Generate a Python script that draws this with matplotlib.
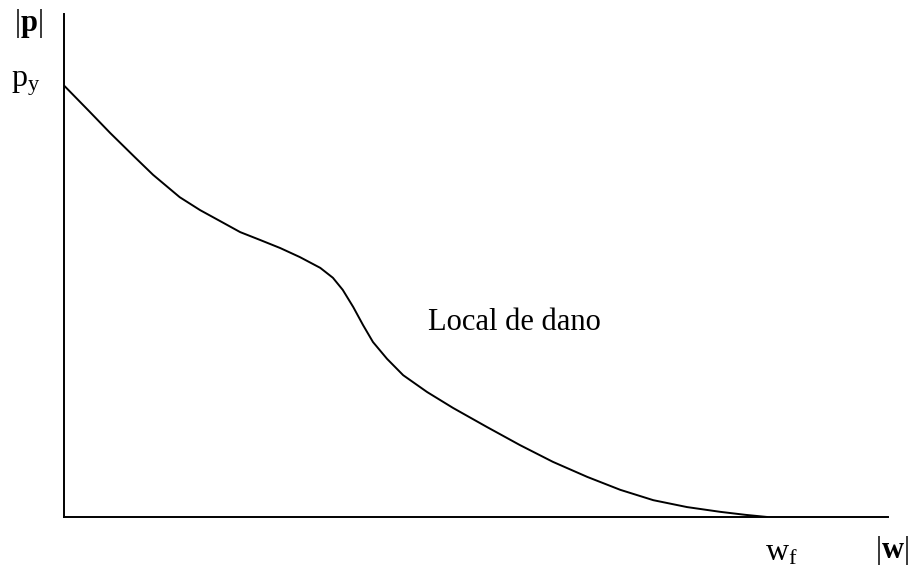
import matplotlib.pyplot as plt

plt.rcParams['font.family'] = ['Liberation Serif', 'DejaVu Serif']
plt.rcParams['mathtext.fontset'] = 'custom'
plt.rcParams['mathtext.rm'] = 'Liberation Serif'
plt.rcParams['mathtext.it'] = 'Liberation Serif:italic'
plt.rcParams['mathtext.bf'] = 'Liberation Serif:bold'

# damage locus, |w| normalised by w_f and |p| normalised by p_y
w = [0.0, 0.036, 0.065, 0.100, 0.126, 0.164, 0.193, 0.221, 0.250, 0.278, 0.307,
     0.335, 0.364, 0.382, 0.396, 0.411, 0.425, 0.439, 0.459, 0.482, 0.516, 0.553,
     0.601, 0.648, 0.695, 0.744, 0.791, 0.838, 0.886, 0.933, 0.969, 1.0]
p = [1.0, 0.940, 0.891, 0.835, 0.794, 0.742, 0.712, 0.687, 0.661, 0.643, 0.624,
     0.603, 0.578, 0.555, 0.527, 0.487, 0.445, 0.406, 0.367, 0.329, 0.290, 0.253,
     0.209, 0.167, 0.128, 0.093, 0.063, 0.039, 0.023, 0.012, 0.005, 0.0]

w_max = 1.172
p_max = 1.167

fig = plt.figure(figsize=(9.12, 5.67), dpi=100)
ax = fig.add_axes([0.0707, 0.0882, 0.903, 0.8871])

ax.plot(w, p, color='black', lw=1.4, solid_joinstyle='round', solid_capstyle='round')

ax.set_xlim(0, w_max)
ax.set_ylim(0, p_max)
for side in ['top', 'right']:
    ax.spines[side].set_visible(False)
for side in ['left', 'bottom']:
    ax.spines[side].set_linewidth(1.4)
ax.set_xticks([])
ax.set_yticks([])

fs = 22
ax.text(-0.051, 1.144, r'$|\mathbf{p}|$', fontsize=fs, ha='center', va='center', clip_on=False)
ax.text(-0.055, 1.005, r'$\mathrm{p_y}$', fontsize=23, ha='center', va='center', clip_on=False)
ax.text(1.020, -0.084, r'$\mathrm{w_f}$', fontsize=23, ha='center', va='center', clip_on=False)
ax.text(1.178, -0.077, r'$|\mathbf{w}|$', fontsize=fs, ha='center', va='center', clip_on=False)
ax.text(0.641, 0.452, 'Local de dano', fontsize=fs, ha='center', va='center')

fig.savefig('out.png', dpi=100)
